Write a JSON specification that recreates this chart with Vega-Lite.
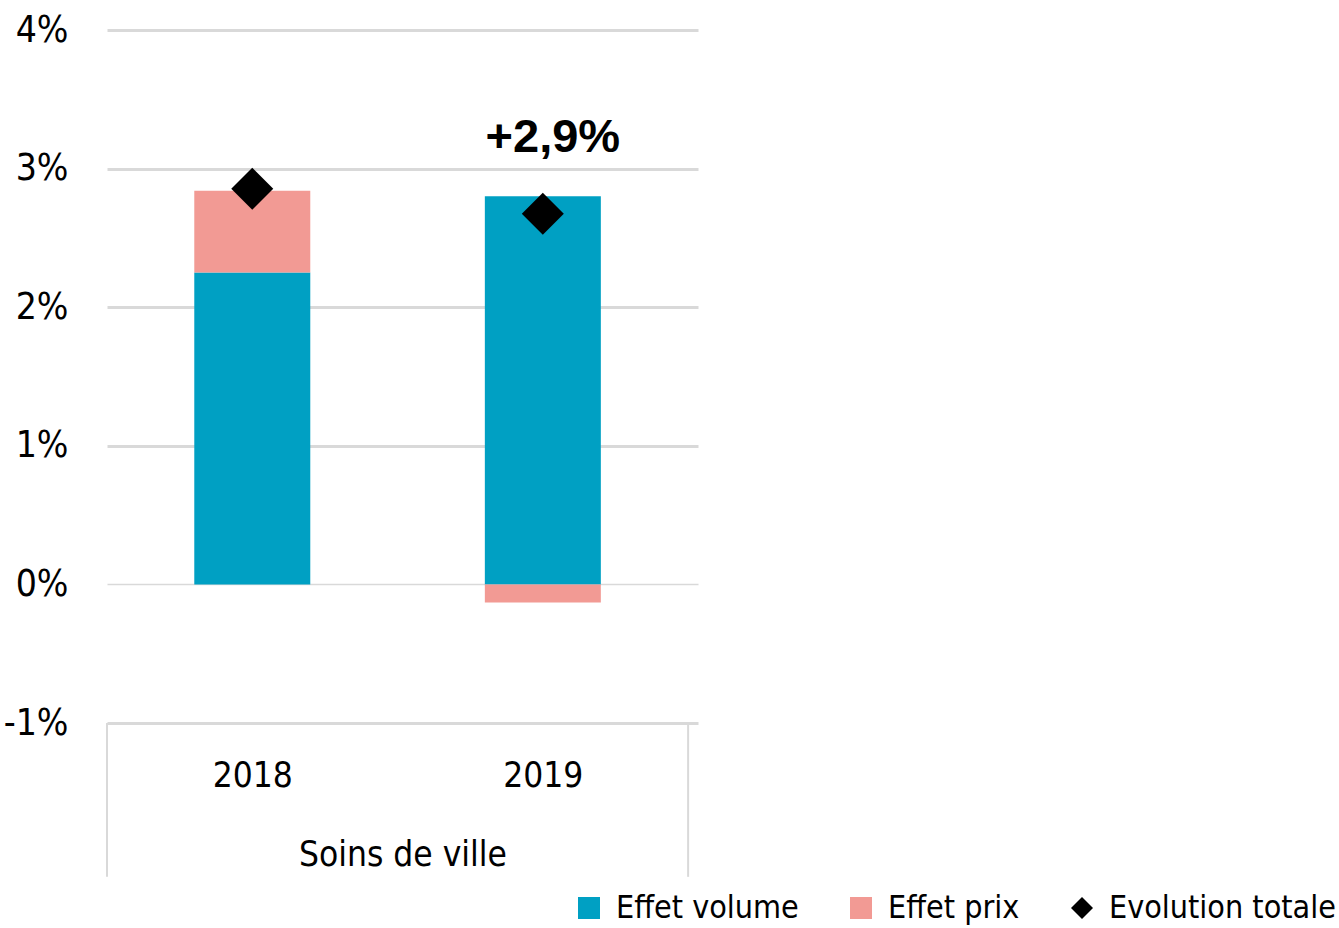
{
  "$schema": "https://vega.github.io/schema/vega-lite/v6.json",
  "width": 591,
  "height": 693,
  "autosize": {"type": "none"},
  "padding": {"left": 107, "top": 30, "right": 641, "bottom": 205},
  "background": "white",
  "data": {
    "values": [
      {"annee": 2018, "composante": "Effet volume", "valeur": 2.25, "label": ""},
      {"annee": 2018, "composante": "Effet prix", "valeur": 0.59, "label": ""},
      {"annee": 2018, "composante": "Evolution totale", "valeur": 2.855, "label": ""},
      {"annee": 2019, "composante": "Effet volume", "valeur": 2.80, "label": ""},
      {"annee": 2019, "composante": "Effet prix", "valeur": -0.13, "label": ""},
      {"annee": 2019, "composante": "Evolution totale", "valeur": 2.675, "label": "+2,9%"}
    ]
  },
  "layer": [
    {
      "data": {"values": [{"bord": 2017.5}, {"bord": 2019.5}]},
      "mark": {"type": "rule", "color": "#d9d9d9", "strokeWidth": 2},
      "encoding": {
        "x": {"field": "bord", "type": "quantitative"},
        "y": {"datum": -1},
        "y2": {"datum": -2.11}
      }
    },
    {
      "transform": [{"filter": "datum.composante !== 'Evolution totale'"}],
      "mark": {"type": "bar", "width": 116},
      "encoding": {
        "x": {
          "field": "annee",
          "type": "quantitative",
          "scale": {"domain": [2017.5, 2019.534], "nice": false, "zero": false, "padding": 0},
          "axis": {
            "values": [2018, 2019],
            "format": "d",
            "grid": false,
            "domain": false,
            "ticks": false,
            "labelFontSize": 35,
            "labelColor": "black",
            "labelPadding": 35,
            "title": "Soins de ville",
            "titleFontSize": 35,
            "titleFontWeight": "normal",
            "titleColor": "black",
            "titlePadding": 44
          }
        },
        "y": {
          "field": "valeur",
          "type": "quantitative",
          "stack": "zero",
          "scale": {"domain": [-1, 4], "nice": false},
          "axis": {
            "values": [-1, 0, 1, 2, 3, 4],
            "labelExpr": "datum.value + '%'",
            "title": null,
            "domain": false,
            "ticks": false,
            "grid": true,
            "gridColor": "#d9d9d9",
            "gridWidth": {"condition": {"test": "datum.value == 0", "value": 1.5}, "value": 3},
            "labelFontSize": 37,
            "labelColor": "black",
            "labelPadding": 39
          }
        },
        "color": {
          "field": "composante",
          "type": "nominal",
          "scale": {
            "domain": ["Effet volume", "Effet prix", "Evolution totale"],
            "range": ["#00A0C3", "#F29A94", "#000000"]
          }
        },
        "order": {"field": "composante", "sort": "descending"}
      }
    },
    {
      "transform": [{"filter": "datum.composante === 'Evolution totale'"}],
      "mark": {"type": "point", "filled": true, "size": 1764, "opacity": 1},
      "encoding": {
        "x": {"field": "annee", "type": "quantitative"},
        "y": {"field": "valeur", "type": "quantitative"},
        "color": {"field": "composante", "type": "nominal"},
        "shape": {
          "field": "composante",
          "type": "nominal",
          "scale": {
            "domain": ["Effet volume", "Effet prix", "Evolution totale"],
            "range": ["square", "square", "diamond"]
          }
        }
      }
    },
    {
      "transform": [{"filter": "datum.label !== ''"}],
      "mark": {"type": "text", "fontSize": 47, "fontWeight": "bold", "dy": -76, "dx": 10, "color": "black"},
      "encoding": {
        "x": {"field": "annee", "type": "quantitative"},
        "y": {"field": "valeur", "type": "quantitative"},
        "text": {"field": "label"}
      }
    }
  ],
  "resolve": {"legend": {"color": "shared", "shape": "shared"}},
  "config": {
    "view": {"stroke": null},
    "font": "DejaVu Sans Condensed, Liberation Sans Narrow, Liberation Sans, sans-serif",
    "text": {"font": "Liberation Sans, Arial, sans-serif"},
    "legend": {
      "title": null,
      "orient": "none",
      "legendX": 466,
      "legendY": 862,
      "direction": "horizontal",
      "padding": 0,
      "symbolSize": 484,
      "symbolStrokeWidth": 0,
      "labelFontSize": 32,
      "labelColor": "black",
      "labelOffset": 11,
      "columnPadding": 46,
      "labelLimit": 400
    }
  }
}
